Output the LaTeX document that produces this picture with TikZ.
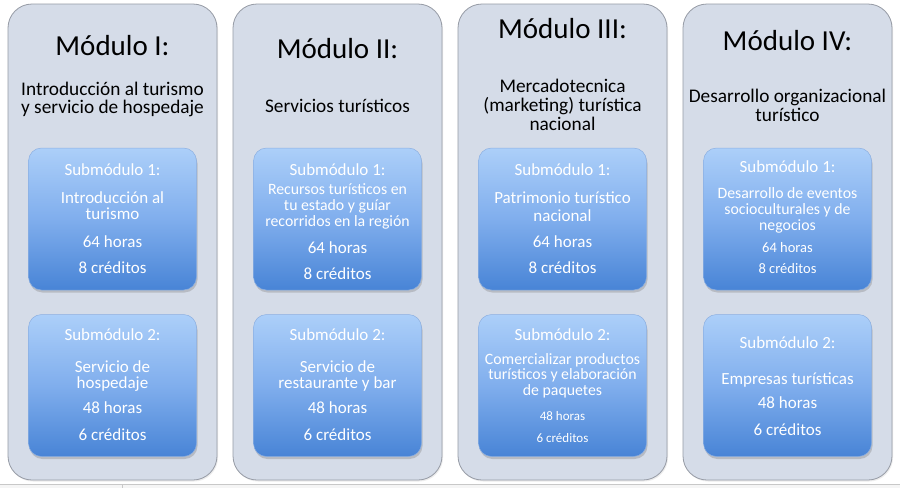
\documentclass[tikz,border=0pt]{standalone}
\usepackage{fontspec}
\setmainfont{Carlito}
\usetikzlibrary{shadows}
\definecolor{panelfill}{RGB}{213,220,232}
\definecolor{paneldraw}{RGB}{150,155,165}
\definecolor{btop}{RGB}{172,207,249}
\definecolor{bmid}{RGB}{128,174,237}
\definecolor{bbot}{RGB}{72,132,214}
\definecolor{bline}{RGB}{140,175,225}
\definecolor{sepline}{RGB}{200,200,200}
\tikzset{
  panel/.style={draw=paneldraw, line width=0.8pt, fill=panelfill, rounded corners=24pt,
    minimum width=209pt, minimum height=476pt, inner sep=0pt,
    drop shadow={opacity=0.15, shadow xshift=1pt, shadow yshift=-1.5pt}},
  subbox/.style={draw=bline, line width=0.5pt, rounded corners=13pt,
    top color=btop, bottom color=bbot, middle color=bmid,
    minimum width=168pt, minimum height=142pt, inner sep=0pt,
    drop shadow={opacity=0.35, shadow xshift=1pt, shadow yshift=-2.5pt}},
  ttl/.style={anchor=base, inner sep=0pt, font=\fontsize{29}{29}\selectfont},
  subt/.style={anchor=base, inner sep=0pt, font=\fontsize{19.3}{19.3}\selectfont},
  bt/.style={anchor=base, inner sep=0pt, text=white, font=\fontsize{17}{17}\selectfont},
  btm/.style={anchor=base, inner sep=0pt, text=white, font=\fontsize{15.8}{15.8}\selectfont},
  bts/.style={anchor=base, inner sep=0pt, text=white, font=\fontsize{14.5}{14.5}\selectfont},
  btx/.style={anchor=base, inner sep=0pt, text=white, font=\fontsize{13}{13}\selectfont},
}
\newcommand\tl[5][bt]{\node[#1] (#2) at (#3,#4) {#5};}
\begin{document}
\begin{tikzpicture}[x=1pt,y=-1pt]
\useasboundingbox (0,0) rectangle (900,488);
\fill[white] (0,0) rectangle (900,488);
% bottom artifact
\fill[black!4] (0,484) rectangle (900,488);
\draw[sepline, line width=0.6pt] (0,484) -- (900,484);
\draw[sepline, line width=0.6pt] (122,484) -- (122,488);

% panels
\node[panel] (p1) at (112.5,242) {};
\node[panel] (p2) at (337.5,242) {};
\node[panel] (p3) at (562.5,242) {};
\node[panel] (p4) at (787.5,242) {};

% sub boxes
\node[subbox] (b11) at (112.5,219) {};
\node[subbox] (b12) at (112.5,385.5) {};
\node[subbox] (b21) at (337.5,219) {};
\node[subbox] (b22) at (337.5,385.5) {};
\node[subbox] (b31) at (562.5,219) {};
\node[subbox] (b32) at (562.5,385.5) {};
\node[subbox] (b41) at (787.5,219) {};
\node[subbox] (b42) at (787.5,385.5) {};

% ---- Column 1
\tl[ttl]{t1}{112.5}{55}{Módulo I:}
\tl[subt]{s1a}{112.5}{95}{Introducción al turismo}
\tl[subt]{s1b}{112.5}{113}{y servicio de hospedaje}
\tl{c11a}{112.5}{175}{Submódulo 1:}
\tl{c11b}{112.5}{203}{Introducción al}
\tl{c11c}{112.5}{219}{turismo}
\tl{c11d}{112.5}{247}{64 horas}
\tl{c11e}{112.5}{273}{8 créditos}
\tl{c12a}{112.5}{340}{Submódulo 2:}
\tl{c12b}{112.5}{372}{Servicio de}
\tl{c12c}{112.5}{388}{hospedaje}
\tl{c12d}{112.5}{413}{48 horas}
\tl{c12e}{112.5}{440}{6 créditos}

% ---- Column 2
\tl[ttl]{t2}{337.5}{58}{Módulo II:}
\tl[subt]{s2a}{337.5}{112}{Servicios turísticos}
\tl{c21a}{337.5}{175}{Submódulo 1:}
\tl[btm]{c21b}{337.5}{194}{Recursos turísticos en}
\tl[btm]{c21c}{337.5}{210}{tu estado y guíar}
\tl[btm]{c21d}{337.5}{226}{recorridos en la región}
\tl{c21e}{337.5}{253}{64 horas}
\tl{c21f}{337.5}{279}{8 créditos}
\tl{c22a}{337.5}{340}{Submódulo 2:}
\tl{c22b}{337.5}{372}{Servicio de}
\tl{c22c}{337.5}{388}{restaurante y bar}
\tl{c22d}{337.5}{413}{48 horas}
\tl{c22e}{337.5}{440}{6 créditos}

% ---- Column 3
\tl[ttl]{t3}{562.5}{38}{Módulo III:}
\tl[subt]{s3a}{562.5}{92}{Mercadotecnica}
\tl[subt]{s3b}{562.5}{111}{(marketing) turística}
\tl[subt]{s3c}{562.5}{130}{nacional}
\tl{c31a}{562.5}{175}{Submódulo 1:}
\tl{c31b}{562.5}{203}{Patrimonio turístico}
\tl{c31c}{562.5}{221}{nacional}
\tl{c31d}{562.5}{247}{64 horas}
\tl{c31e}{562.5}{273}{8 créditos}
\tl{c32a}{562.5}{340}{Submódulo 2:}
\tl[btm]{c32b}{562.5}{364}{Comercializar productos}
\tl[btm]{c32c}{562.5}{379.5}{turísticos y elaboración}
\tl[btm]{c32d}{562.5}{395}{de paquetes}
\tl[btx]{c32e}{562.5}{420}{48 horas}
\tl[btx]{c32f}{562.5}{442}{6 créditos}

% ---- Column 4
\tl[ttl]{t4}{787.5}{50}{Módulo IV:}
\tl[subt]{s4a}{787.5}{102}{Desarrollo organizacional}
\tl[subt]{s4b}{787.5}{121}{turístico}
\tl{c41a}{787.5}{172}{Submódulo 1:}
\tl[btm]{c41b}{787.5}{198}{Desarrollo de eventos}
\tl[btm]{c41c}{787.5}{214}{socioculturales y de}
\tl[btm]{c41d}{787.5}{230}{negocios}
\tl[bts]{c41e}{787.5}{252}{64 horas}
\tl[bts]{c41f}{787.5}{273}{8 créditos}
\tl{c42a}{787.5}{348}{Submódulo 2:}
\tl{c42b}{787.5}{384}{Empresas turísticas}
\tl{c42c}{787.5}{408}{48 horas}
\tl{c42d}{787.5}{435}{6 créditos}
\end{tikzpicture}
\end{document}
